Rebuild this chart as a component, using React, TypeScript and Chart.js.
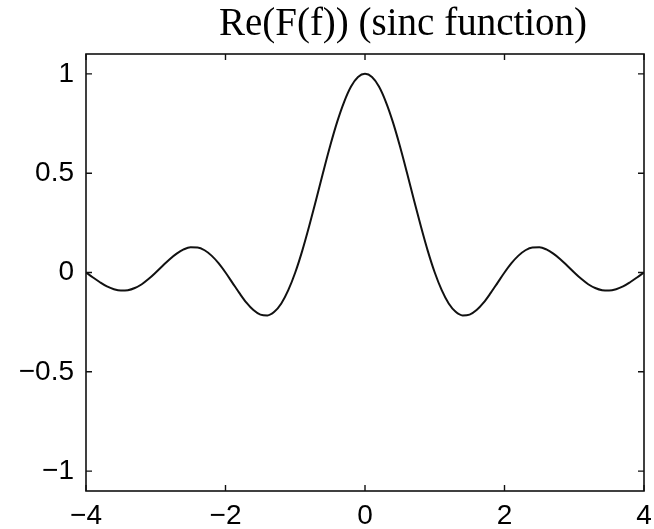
import React, { useEffect, useRef } from "react";
import { Chart, registerables } from "chart.js";

Chart.register(...registerables);

const titleText = "Re(F(f)) (sinc function)";
const xValues = [
  -4.0, -3.9, -3.8, -3.7, -3.6, -3.5, -3.4, -3.3, -3.2, -3.1,
  -3.0, -2.9, -2.8, -2.7, -2.6, -2.5, -2.4, -2.3, -2.2, -2.1,
  -2.0, -1.9, -1.8, -1.7, -1.6, -1.5, -1.4, -1.3, -1.2, -1.1,
  -1.0, -0.9, -0.8, -0.7, -0.6, -0.5, -0.4, -0.3, -0.2, -0.1,
  0.0, 0.1, 0.2, 0.3, 0.4, 0.5, 0.6, 0.7, 0.8, 0.9,
  1.0, 1.1, 1.2, 1.3, 1.4, 1.5, 1.6, 1.7, 1.8, 1.9,
  2.0, 2.1, 2.2, 2.3, 2.4, 2.5, 2.6, 2.7, 2.8, 2.9,
  3.0, 3.1, 3.2, 3.3, 3.4, 3.5, 3.6, 3.7, 3.8, 3.9, 4.0,
];
const yValues = [
  0.0, -0.025, -0.049, -0.07, -0.084, -0.091, -0.089, -0.078, -0.059, -0.032,
  0.0, 0.034, 0.067, 0.095, 0.116, 0.127, 0.126, 0.112, 0.085, 0.047,
  0.0, -0.052, -0.104, -0.152, -0.189, -0.212, -0.216, -0.198, -0.156, -0.089,
  0.0, 0.109, 0.234, 0.368, 0.505, 0.637, 0.757, 0.858, 0.936, 0.984,
  1.0, 0.984, 0.936, 0.858, 0.757, 0.637, 0.505, 0.368, 0.234, 0.109,
  0.0, -0.089, -0.156, -0.198, -0.216, -0.212, -0.189, -0.152, -0.104, -0.052,
  0.0, 0.047, 0.085, 0.112, 0.126, 0.127, 0.116, 0.095, 0.067, 0.034,
  0.0, -0.032, -0.059, -0.078, -0.089, -0.091, -0.084, -0.07, -0.049, -0.025, 0.0,
];
const xTicks = [-4, -2, 0, 2, 4];
const yTicks = [-1, -0.5, 0, 0.5, 1];

const fmt = (v: number) => String(v).replace("-", "\u2212");

const framePlugin = {
  id: "frameTicks",
  afterDraw(chart: any) {
    const { ctx, chartArea } = chart;
    const { left, right, top, bottom } = chartArea;
    const xs = chart.scales.x;
    const ys = chart.scales.y;
    const tl = 6;
    ctx.save();
    ctx.strokeStyle = "#111";
    ctx.lineWidth = 1.6;
    ctx.strokeRect(left, top, right - left, bottom - top);
    ctx.lineWidth = 1.4;
    ctx.beginPath();
    xTicks.forEach((v) => {
      const px = xs.getPixelForValue(v);
      ctx.moveTo(px, bottom);
      ctx.lineTo(px, bottom - tl);
      ctx.moveTo(px, top);
      ctx.lineTo(px, top + tl);
    });
    yTicks.forEach((v) => {
      const py = ys.getPixelForValue(v);
      ctx.moveTo(left, py);
      ctx.lineTo(left + tl, py);
      ctx.moveTo(right, py);
      ctx.lineTo(right - tl, py);
    });
    ctx.stroke();
    ctx.fillStyle = "#000";
    ctx.font = '39px "Liberation Serif"';
    ctx.textAlign = "center";
    ctx.textBaseline = "alphabetic";
    ctx.fillText(titleText, 403, 35);
    ctx.restore();
  },
};

export default function App() {
  const ref = useRef<HTMLCanvasElement | null>(null);
  useEffect(() => {
    if (!ref.current) return;
    const chart = new Chart(ref.current, {
      type: "line",
      data: {
        datasets: [
          {
            data: xValues.map((x, i) => ({ x, y: yValues[i] })),
            borderColor: "#111",
            borderWidth: 2,
            pointRadius: 0,
            cubicInterpolationMode: "monotone",
            fill: false,
          },
        ],
      },
      options: {
        animation: false,
        responsive: false,
        events: [],
        layout: { padding: { top: 54, right: 10, left: 0, bottom: 0 } },
        plugins: { legend: { display: false }, title: { display: false }, tooltip: { enabled: false } },
        scales: {
          x: {
            type: "linear",
            min: -4,
            max: 4,
            grid: { display: false, drawTicks: false },
            border: { display: false },
            afterBuildTicks: (s: any) => {
              s.ticks = xTicks.map((v) => ({ value: v }));
            },
            afterFit: (s: any) => {
              s.height = 38;
              s.paddingLeft = 0;
              s.paddingRight = 0;
            },
            ticks: {
              padding: 8,
              maxRotation: 0,
              autoSkip: false,
              color: "#000",
              font: { family: "Liberation Sans", size: 28 },
              callback: (v: any) => fmt(Number(v)),
            },
          },
          y: {
            type: "linear",
            min: -1.1,
            max: 1.1,
            grid: { display: false, drawTicks: false },
            border: { display: false },
            afterBuildTicks: (s: any) => {
              s.ticks = yTicks.map((v) => ({ value: v }));
            },
            afterFit: (s: any) => {
              s.width = 86;
              s.paddingTop = 0;
              s.paddingBottom = 0;
            },
            ticks: {
              padding: 12,
              autoSkip: false,
              color: "#000",
              font: { family: "Liberation Sans", size: 28 },
              callback: (v: any) => fmt(Number(v)),
            },
          },
        },
      },
      plugins: [framePlugin],
    });
    return () => chart.destroy();
  }, []);
  return (
    <div style={{ position: "fixed", left: 0, top: 0, background: "#fff" }}>
      <canvas ref={ref} width={654} height={529} style={{ display: "block" }} />
    </div>
  );
}
